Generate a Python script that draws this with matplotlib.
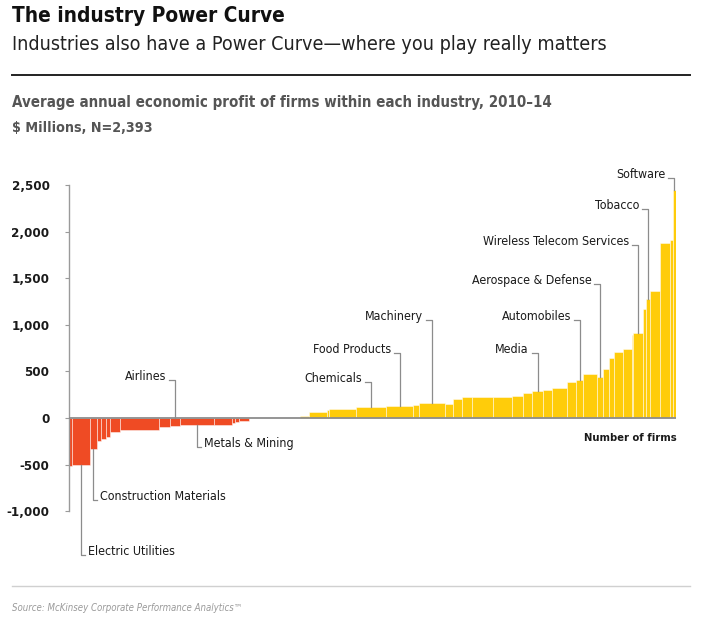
import matplotlib
matplotlib.use("Agg")
import matplotlib.pyplot as plt
from matplotlib import font_manager as fm
import numpy as np

# ---------------- data ----------------
# number of firms in each industry (bar widths) and average annual economic profit ($M)
firms = [12, 71, 26, 16, 20, 17, 39, 152, 47, 37, 135, 69, 13, 16, 41, 121, 79, 37,
         69, 9, 104, 118, 110, 20, 105, 29, 39, 37, 85, 72, 46, 33, 46, 33, 59, 37,
         29, 53, 26, 20, 20, 39, 33, 6, 39, 9, 17, 39, 42, 9, 13]
profit = [-520, -500, -335, -250, -220, -200, -155, -130, -100, -83, -77, -73, -52, -42, -27, -4, 3, 20,
          60, 84, 100, 120, 125, 144, 160, 155, 200, 220, 228, 228, 240, 272, 292, 305, 320, 385,
          410, 475, 440, 530, 640, 705, 740, 890, 912, 1170, 1280, 1360, 1877, 1915, 2450]

# labelled industries: (name, bar index)
labels_above = [("Software", 50), ("Tobacco", 46), ("Wireless Telecom Services", 44),
                ("Aerospace & Defense", 38), ("Automobiles", 36), ("Media", 32),
                ("Machinery", 24), ("Food Products", 22), ("Chemicals", 21), ("Airlines", 9)]
labels_below = [("Metals & Mining", 10), ("Construction Materials", 2), ("Electric Utilities", 1)]

yticks = [-1000, -500, 0, 500, 1000, 1500, 2000, 2500]
ytick_labels = ["-1,000", "-500", "0", "500", "1,000", "1,500", "2,000", "2,500"]

# label baseline heights (in $M units) for the leader elbows
above_y = {"Software": 2575, "Tobacco": 2243, "Wireless Telecom Services": 1856,
           "Aerospace & Defense": 1438, "Automobiles": 1052, "Media": 697,
           "Machinery": 1052, "Food Products": 697, "Chemicals": 386, "Airlines": 408}
below_y = {"Metals & Mining": -311, "Construction Materials": -880, "Electric Utilities": -1470}

# ---------------- style ----------------
_fonts = fm.fontManager.ttflist
_names = {f.name for f in _fonts}
STRETCH = "normal"
if "Liberation Sans Narrow" in _names:
    FONT = ["Liberation Sans Narrow", "DejaVu Sans"]
elif any(f.name == "DejaVu Sans" and str(f.stretch) in ("condensed", "semi-condensed")
         for f in _fonts):
    FONT = ["DejaVu Sans"]
    STRETCH = "condensed"
elif "Roboto" in _names:
    FONT = ["Roboto", "DejaVu Sans"]
else:
    FONT = ["DejaVu Sans"]
plt.rcParams["font.family"] = FONT
plt.rcParams["font.stretch"] = STRETCH

RED = "#EF4B24"
YEL = "#FFCC0A"
GRAY_LINE = "#8c8c8c"
TXT = "#1a1a1a"

W, H = 703, 620
fig = plt.figure(figsize=(W / 100, H / 100), dpi=100)
renderer = fig.canvas.get_renderer()


def fx(px):
    return px / W


def fy(py):
    return 1 - py / H


def fit(t, target):
    for _ in range(3):
        w = t.get_window_extent(renderer).width
        if w > 0:
            t.set_fontsize(t.get_fontsize() * target / w)
    return t.get_fontsize()


# axes placement: x 69..676 px, y 165..560 px
ax = fig.add_axes([fx(69), fy(560), fx(676) - fx(69), fy(165) - fy(560)])
total = sum(firms)
upp = 2500 / (418 - 185)  # units per pixel
ax.set_xlim(0, total)
ax.set_ylim(-(560 - 418) * upp, (418 - 165) * upp)

lefts = np.concatenate([[0], np.cumsum(firms)[:-1]])
colors = [RED if v < 0 else YEL for v in profit]
ax.bar(lefts, profit, width=firms, align="edge", color=colors,
       edgecolor=(1, 1, 1, 0.55), linewidth=0.6, zorder=2)

ax.axhline(0, color=GRAY_LINE, lw=1.3, zorder=3)

for s in ["top", "right", "bottom"]:
    ax.spines[s].set_visible(False)
ax.spines["left"].set_color("#9a9a9a")
ax.spines["left"].set_linewidth(1.0)
ax.spines["left"].set_bounds(-1000, 2500)
ax.set_xticks([])

# tick label size fitted to reference width of "2,500"
probe = fig.text(0, 0, "2,500", fontsize=12, fontweight="bold")
tick_fs = fit(probe, 38)
probe.remove()
ax.set_yticks(yticks)
ax.set_yticklabels(ytick_labels)
ax.tick_params(axis="y", length=3, width=0.8, color="#9a9a9a", pad=11,
               labelsize=tick_fs, labelcolor=TXT)
for t in ax.get_yticklabels():
    t.set_fontweight("bold")

# label font size fitted to reference width of "Electric Utilities"
probe = fig.text(0, 0, "Electric Utilities", fontsize=10.5)
LFS = fit(probe, 87)
probe.remove()

px_firm = total / (676 - 69)
centers = lefts + np.array(firms) / 2.0

for name, i in labels_above:
    x = centers[i]
    top = max(profit[i], 0)
    ey = above_y[name]
    x0 = x - 6 * px_firm
    ax.plot([x0, x, x], [ey, ey, top], color=GRAY_LINE, lw=0.9, zorder=4, clip_on=False)
    ax.annotate(name, xy=(x0, ey), xytext=(-2, 0), textcoords="offset points",
                ha="right", va="baseline", fontsize=LFS, color=TXT,
                annotation_clip=False)

for name, i in labels_below:
    x = centers[i]
    bot = profit[i]
    ey = below_y[name]
    x1 = x + 4 * px_firm
    ax.plot([x, x, x1], [bot, ey, ey], color=GRAY_LINE, lw=0.9, zorder=4, clip_on=False)
    ax.annotate(name, xy=(x1, ey), xytext=(2, 0), textcoords="offset points",
                ha="left", va="baseline", fontsize=LFS, color=TXT,
                annotation_clip=False)

nf = fig.text(fx(677), fy(438), "Number of firms", ha="right", va="center",
              fontsize=LFS, fontweight="bold", color=TXT)
fit(nf, 93)

# ---------------- titles ----------------
t1 = fig.text(fx(12), fy(16), "The industry Power Curve", ha="left", va="center",
              fontsize=17, fontweight="bold", color="#111111")
fit(t1, 272)
t2 = fig.text(fx(12), fy(45), "Industries also have a Power Curve\u2014where you play really matters",
              ha="left", va="center", fontsize=15, color="#222222")
fit(t2, 595)
fig.add_artist(plt.Line2D([fx(12), fx(690)], [fy(75), fy(75)], color="#222222", lw=1.4))
t3 = fig.text(fx(12), fy(103), "Average annual economic profit of firms within each industry, 2010\u201314",
              ha="left", va="center", fontsize=12, fontweight="bold", color="#555555")
fit(t3, 541)
t4 = fig.text(fx(12), fy(128), "$ Millions, N=2,393", ha="left", va="center",
              fontsize=12, fontweight="bold", color="#555555")
fit(t4, 139)
fig.add_artist(plt.Line2D([fx(12), fx(690)], [fy(586), fy(586)], color="#d0d0d0", lw=1.0))
t5 = fig.text(fx(12), fy(608), "Source: McKinsey Corporate Performance Analytics\u2122", ha="left",
              va="center", fontsize=9, style="italic", color="#9a9a9a")
fit(t5, 232)

fig.savefig("out.png", dpi=100)
